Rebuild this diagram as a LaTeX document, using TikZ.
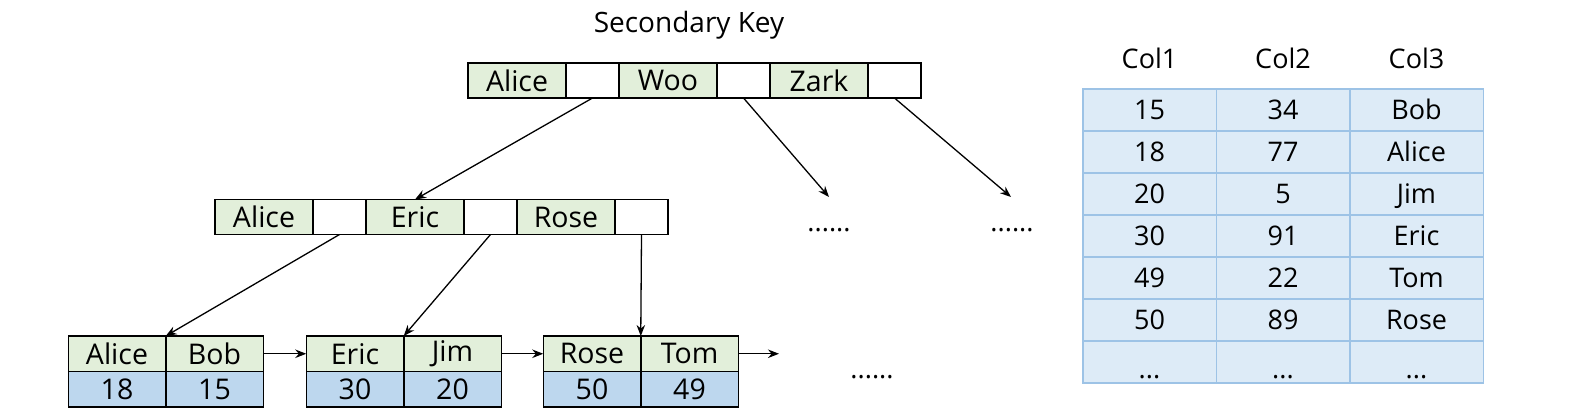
\documentclass[tikz,border=0pt]{standalone}
\usepackage{fontspec}
\setmainfont{Open Sans}
\usetikzlibrary{positioning,arrows.meta}

\definecolor{keygreen}{HTML}{E2EFDA}
\definecolor{valblue}{HTML}{BDD7EE}
\definecolor{tabfill}{HTML}{DDEBF7}
\definecolor{tabline}{HTML}{9DC3E6}
\newcommand{\celldots}{\raisebox{-7pt}{...}}

\begin{document}
\begin{tikzpicture}[
        x=1pt, y=-1pt,
        every node/.style={font=\fontsize{27}{30}\selectfont, inner sep=0pt, outer sep=0pt},
        boxfont/.style={font=\fontsize{28.5}{30}\selectfont},
        keycell/.style={rectangle, boxfont, draw=black, line width=1.5pt, fill=keygreen, minimum width=98pt, minimum height=35pt},
        ptrcell/.style={rectangle, draw=black, line width=1.5pt, fill=white, minimum width=53pt, minimum height=35pt},
        leafkey/.style={rectangle, boxfont, draw=black, line width=1.5pt, fill=keygreen, minimum width=97.5pt, minimum height=35.5pt},
        leafval/.style={rectangle, boxfont, draw=black, line width=1.5pt, fill=valblue, minimum width=97.5pt, minimum height=35.5pt},
        tabcell/.style={rectangle, draw=tabline, line width=1.5pt, fill=tabfill, minimum width=133.5pt, minimum height=42pt, text height=19.5pt, text depth=0pt},
        more/.style={anchor=base},
        arrow/.style={-{Stealth[length=11pt,width=8.5pt]}, line width=1.3pt}
    ]
    \useasboundingbox (0,0) rectangle (1589,408);

    % Title
    \node[font=\fontsize{28}{30}\selectfont] (title) at (689,25) {Secondary Key};

    % Root node
    \node[keycell] (t1) at (517,80.5) {Alice};
    \node[ptrcell, right=0pt of t1] (t1p) {};
    \node[keycell, right=0pt of t1p] (t2) {Woo};
    \node[ptrcell, right=0pt of t2] (t2p) {};
    \node[keycell, right=0pt of t2p] (t3) {Zark};
    \node[ptrcell, right=0pt of t3] (t3p) {};

    % Inner node
    \node[keycell] (m1) at (264,217) {Alice};
    \node[ptrcell, right=0pt of m1] (m1p) {};
    \node[keycell, right=0pt of m1p] (m2) {Eric};
    \node[ptrcell, right=0pt of m2] (m2p) {};
    \node[keycell, right=0pt of m2p] (m3) {Rose};
    \node[ptrcell, right=0pt of m3] (m3p) {};

    % Leaf nodes
    \node[leafkey] (a1) at (117,353.75) {Alice};
    \node[leafkey, right=0pt of a1] (a2) {Bob};
    \node[leafval, below=0pt of a1] (a1v) {18};
    \node[leafval, below=0pt of a2] (a2v) {15};

    \node[leafkey] (b1) at (355,353.75) {Eric};
    \node[leafkey, right=0pt of b1] (b2) {Jim};
    \node[leafval, below=0pt of b1] (b1v) {30};
    \node[leafval, below=0pt of b2] (b2v) {20};

    \node[leafkey] (c1) at (592,353.75) {Rose};
    \node[leafkey, right=0pt of c1] (c2) {Tom};
    \node[leafval, below=0pt of c1] (c1v) {50};
    \node[leafval, below=0pt of c2] (c2v) {49};

    % Elided subtrees
    \coordinate (woonext) at (829,197);
    \coordinate (zarknext) at (1011,197);
    \coordinate (leafnext) at (779,353.75);
    \node[more] (dots1) at (829,231) {......};
    \node[more] (dots2) at (1012,231) {......};
    \node[more] (dots3) at (872,378) {......};

    % Arrows
    \draw[arrow] (t1p.south) -- (m2.north);
    \draw[arrow] (t2p.south) -- (woonext);
    \draw[arrow] (t3p.south) -- (zarknext);
    \draw[arrow] (m1p.south) -- (a1.north east);
    \draw[arrow] (m2p.south) -- (b1.north east);
    \draw[arrow] (m3p.south) -- (c1.north east);
    \draw[arrow] (a2.east) -- (b1.west);
    \draw[arrow] (b2.east) -- (c1.west);
    \draw[arrow] (c2.east) -- (leafnext);

    % Table
    \node (h1) at (1149.5,58) {Col1};
    \node (h2) at (1283,58) {Col2};
    \node (h3) at (1416.5,58) {Col3};
    \foreach \a/\b/\c [count=\i] in {15/34/Bob, 18/77/Alice, 20/5/Jim, 30/91/Eric, 49/22/Tom, 50/89/Rose, \celldots/\celldots/\celldots} {
        \node[tabcell] (r\i c1) at (1149.5,{110+42*(\i-1)}) {\a};
        \node[tabcell] (r\i c2) at (1283,{110+42*(\i-1)}) {\b};
        \node[tabcell] (r\i c3) at (1416.5,{110+42*(\i-1)}) {\c};
    }

\end{tikzpicture}
\end{document}
